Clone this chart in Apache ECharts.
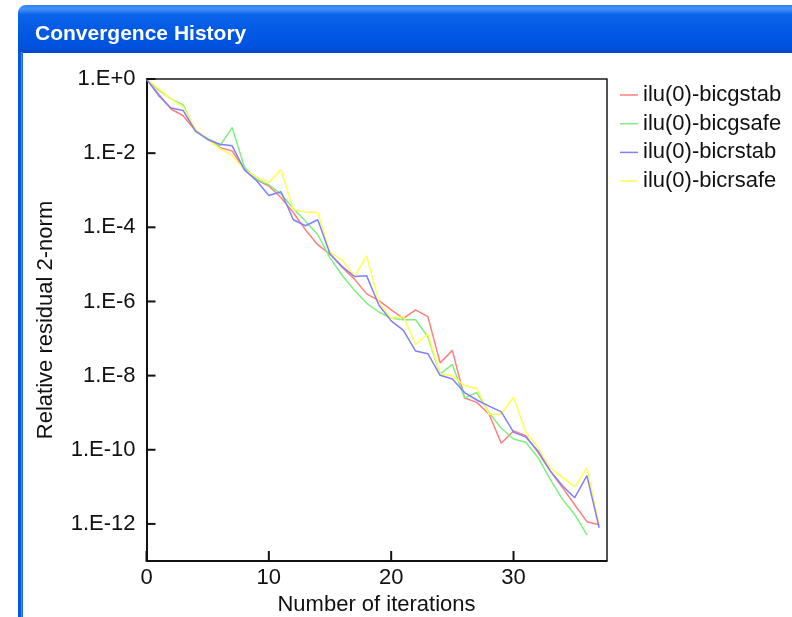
<!DOCTYPE html>
<html><head><meta charset="utf-8">
<script src="https://cdn.jsdelivr.net/npm/echarts@6/dist/echarts.min.js"></script>
<style>html,body{margin:0;padding:0;background:#fff;}#c{width:792px;height:617px;}</style>
</head><body><div id="c"></div>
<script>
// ---- data (relative residual 2-norm per iteration, starting at iteration 0) ----
const seriesNames = ['ilu(0)-bicgstab', 'ilu(0)-bicgsafe', 'ilu(0)-bicrstab', 'ilu(0)-bicrsafe'];
const seriesColors = ['#ff7f7f', '#7ff07f', '#8080ff', '#ffff50'];
const bicgstab = [1, 3.9e-1, 1.55e-1, 1.02e-1, 4.0e-2, 2.4e-2, 1.41e-2, 1.15e-2, 3.6e-3, 1.9e-3,
  1.3e-3, 6.3e-4, 2.5e-4, 8.5e-5, 3.4e-5, 1.9e-5, 8.3e-6, 4.0e-6, 1.6e-6, 1.05e-6,
  5.9e-7, 3.5e-7, 5.9e-7, 3.9e-7, 2.2e-8, 4.8e-8, 2.5e-9, 1.9e-9, 9.1e-10, 1.5e-10,
  3.2e-10, 2.4e-10, 8.5e-11, 2.7e-11, 9.5e-12, 3.3e-12, 1.15e-12, 9.5e-13];
const bicgsafe = [1, 5.0e-1, 2.9e-1, 2.0e-1, 3.8e-2, 2.5e-2, 1.58e-2, 4.9e-2, 4.2e-3, 2.0e-3,
  1.4e-3, 7.9e-4, 3.2e-4, 1.45e-4, 6.3e-5, 1.5e-5, 5.0e-6, 2.0e-6, 8.9e-7, 5.2e-7,
  3.5e-7, 3.2e-7, 3.2e-7, 1.1e-7, 1.1e-8, 2.0e-8, 2.5e-9, 3.5e-9, 1.0e-9, 3.8e-10,
  1.95e-10, 1.6e-10, 6.2e-11, 1.6e-11, 4.6e-12, 1.8e-12, 5.1e-13];
const bicrstab = [1, 3.55e-1, 1.66e-1, 1.41e-1, 4.0e-2, 2.34e-2, 1.74e-2, 1.58e-2, 3.6e-3, 1.8e-3,
  7.2e-4, 9.1e-4, 1.6e-4, 1.1e-4, 1.6e-4, 1.9e-5, 8.7e-6, 4.7e-6, 4.9e-6, 7.9e-7,
  3.0e-7, 1.66e-7, 4.6e-8, 3.9e-8, 1.02e-8, 8.1e-9, 3.5e-9, 2.2e-9, 1.5e-9, 1.05e-9,
  3.0e-10, 2.2e-10, 9.3e-11, 2.7e-11, 1.07e-11, 5.1e-12, 2.0e-11, 7.9e-13];
const bicrsafe = [1, 5.4e-1, 2.9e-1, 1.78e-1, 4.4e-2, 2.34e-2, 1.32e-2, 8.7e-3, 3.6e-3, 2.3e-3,
  1.6e-3, 3.6e-3, 3.0e-4, 2.6e-4, 2.5e-4, 2.1e-5, 1.3e-5, 4.7e-6, 1.7e-5, 9.5e-7,
  3.5e-7, 3.9e-7, 6.9e-8, 1.35e-7, 1.1e-8, 1.0e-8, 5.4e-9, 4.5e-9, 9.1e-10, 9.1e-10,
  2.6e-9, 3.0e-10, 1.15e-10, 3.3e-11, 1.8e-11, 1.0e-11, 3.3e-11, 8.7e-13];
const seriesValues = [bicgstab, bicgsafe, bicrstab, bicrsafe];
const yTickExponents = [0, -2, -4, -6, -8, -10, -12];
const yExponentRange = [-13, 0];
const xTickValues = [0, 10, 20, 30];
const xRange = [0, 37.6];
const xTickInterval = 10;
const windowTitle = 'Convergence History';
const xAxisName = 'Number of iterations';
const yAxisName = 'Relative residual 2-norm';

const chart = echarts.init(document.getElementById('c'), null, {renderer: 'canvas'});
const FONT = 'Liberation Sans';
const INK = '#111';
const series = seriesValues.map((vals, k) => ({
  name: seriesNames[k],
  type: 'line',
  data: vals.map((v, i) => [i, Math.log10(v)]),
  showSymbol: false,
  symbol: 'none',
  lineStyle: {width: 1.5, color: seriesColors[k]},
  itemStyle: {color: seriesColors[k]},
  z: 3 + (k === 2 ? 1 : 0)
}));
const frameAxis = {
  axisLine: {show: true, onZero: false, lineStyle: {color: '#1a1a1a', width: 1.5}},
  axisTick: {show: false}, axisLabel: {show: false}, splitLine: {show: false}
};
const windowGraphics = [
  {type: 'rect', z: -10, shape: {x: 18, y: 5, width: 790, height: 48, r: [8, 0, 0, 0]},
    style: {fill: new echarts.graphic.LinearGradient(0, 0, 0, 1, [
      {offset: 0, color: '#2f7ff2'}, {offset: 0.08, color: '#4393fa'}, {offset: 0.2, color: '#0c64ea'},
      {offset: 0.6, color: '#0058e4'}, {offset: 0.9, color: '#0052dc'}, {offset: 1, color: '#0048c6'}])}},
  {type: 'rect', z: -10, shape: {x: 18, y: 52, width: 5, height: 570}, style: {fill: '#0656e4'}},
  {type: 'rect', z: -10, shape: {x: 21, y: 52, width: 1.5, height: 570}, style: {fill: '#3c86f0'}}
];

chart.setOption({
  animation: false,
  title: {
    text: windowTitle, left: 30, top: 19,
    textStyle: {color: '#ffffff', fontFamily: FONT, fontWeight: 'bold', fontSize: 21,
      textShadowColor: '#0b2a7a', textShadowOffsetX: 1.5, textShadowOffsetY: 1.5, textShadowBlur: 0}
  },
  graphic: windowGraphics,
  legend: {
    orient: 'vertical', left: 615, top: 79,
    icon: 'rect', itemWidth: 18, itemHeight: 1.5, itemGap: 6.7,
    data: seriesNames,
    textStyle: {fontFamily: FONT, fontSize: 22, color: INK, lineHeight: 22}
  },
  grid: {left: 146.5, top: 79, right: 185.5, bottom: 56, show: false,
    containLabel: false, outerBoundsMode: 'none'},
  xAxis: [{
    type: 'value', position: 'bottom', min: xRange[0], max: xRange[1], interval: xTickInterval,
    name: xAxisName, nameLocation: 'middle', nameGap: 33,
    nameTextStyle: {fontFamily: FONT, fontSize: 22, color: INK},
    axisLine: {show: true, onZero: false, lineStyle: {color: INK, width: 2}},
    axisTick: {show: false},
    axisLabel: {show: true, fontFamily: FONT, fontSize: 22, color: INK, margin: 6, showMaxLabel: false},
    splitLine: {show: false}
  }, Object.assign({type: 'value', position: 'top', min: xRange[0], max: xRange[1]}, frameAxis)],
  yAxis: [{
    type: 'value', position: 'left', min: yExponentRange[0], max: yExponentRange[1], splitNumber: 6,
    name: yAxisName, nameLocation: 'middle', nameGap: 90,
    nameTextStyle: {fontFamily: FONT, fontSize: 22, color: INK},
    axisLine: {show: true, onZero: false, lineStyle: {color: INK, width: 2}},
    axisTick: {show: false},
    axisLabel: {show: true, fontFamily: FONT, fontSize: 22, color: INK, margin: 11, customValues: yTickExponents,
      formatter: v => '1.E' + (v >= 0 ? '+' + v : String(v))},
    splitLine: {show: false}
  }, Object.assign({type: 'value', position: 'right', min: yExponentRange[0], max: yExponentRange[1]}, frameAxis)],
  series: series
});

// inward-pointing tick marks, placed through the chart's own axis scales
const tickMarks = [];
xTickValues.forEach(v => {
  const p = chart.convertToPixel({xAxisIndex: 0, yAxisIndex: 0}, [v, yExponentRange[0]]);
  tickMarks.push({type: 'line', z: 20, silent: true,
    shape: {x1: p[0], y1: p[1], x2: p[0], y2: p[1] - 10}, style: {stroke: INK, lineWidth: 2}});
});
yTickExponents.forEach(e => {
  const p = chart.convertToPixel({xAxisIndex: 0, yAxisIndex: 0}, [xRange[0], e]);
  tickMarks.push({type: 'line', z: 20, silent: true,
    shape: {x1: p[0], y1: p[1], x2: p[0] + 9, y2: p[1]}, style: {stroke: INK, lineWidth: 2}});
});
chart.setOption({graphic: windowGraphics.concat(tickMarks)});
</script></body></html>
